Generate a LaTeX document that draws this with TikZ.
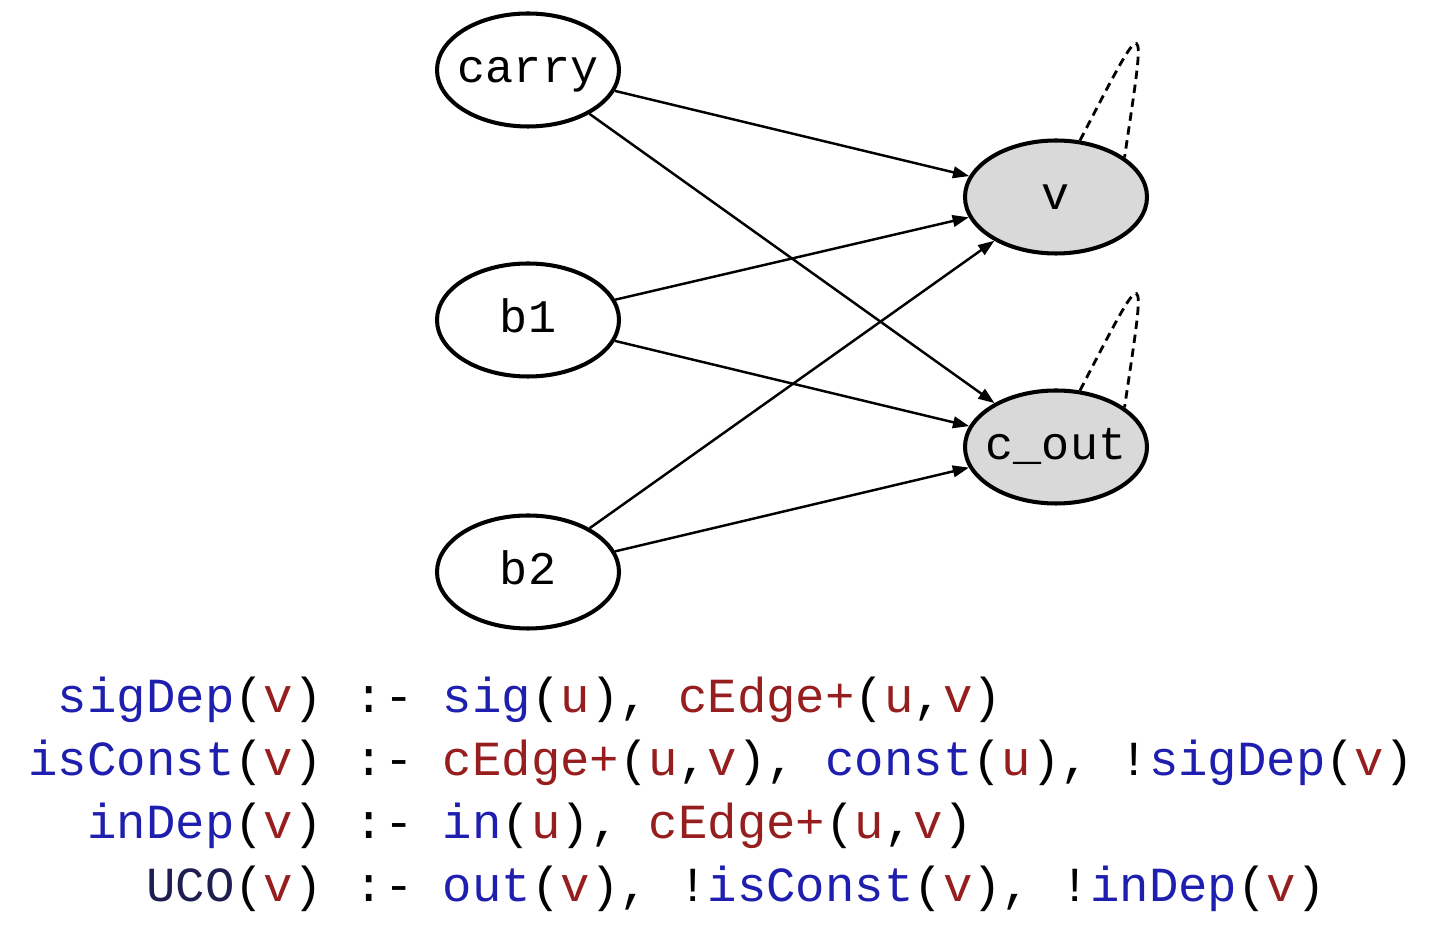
\documentclass[tikz,border=0pt]{standalone}
\usepackage{fontspec}
\setmonofont{Liberation Mono}
\usepackage{xcolor}
\usetikzlibrary{arrows.meta,shapes.geometric}

\definecolor{predblue}{RGB}{30,30,175}
\definecolor{varred}{RGB}{150,30,30}
\definecolor{headnavy}{RGB}{30,30,80}
\newcommand{\predname}[1]{\textcolor{predblue}{#1}}
\newcommand{\varname}[1]{\textcolor{varred}{#1}}

\begin{document}
\begin{tikzpicture}[
  signal/.style={ellipse, draw, line width=1.15pt, minimum width=1.82cm,
    minimum height=1.13cm, inner xsep=-4mm, inner ysep=0pt,
    text height=0.36cm, text depth=0.10cm,
    font=\fontsize{13.3}{16}\selectfont\ttfamily},
  output/.style={signal, fill=gray!30},
  selfloop/.style={-, dashed, dash pattern=on 2.4pt off 1.6pt, line width=0.8pt},
  rule/.style={inner sep=0pt, font=\fontsize{13.95}{17}\selectfont\ttfamily},
  ->,>={Triangle[length=4.6pt,width=3.3pt]},line width=0.7pt
]
\useasboundingbox (0,0) rectangle (14.4,9.38);

\node[signal] (carry) at (5.28,8.68) {carry};
\node[signal] (b1) at (5.28,6.18) {b1};
\node[signal] (b2) at (5.28,3.66) {b2};
\node[output] (v) at (10.56,7.41) {v};
\node[output] (cout) at (10.56,4.91) {c\_out};

\draw (carry) -- (v);
\draw (carry) -- (cout);
\draw (b1) -- (v);
\draw (b1) -- (cout);
\draw (b2) -- (v);
\draw (b2) -- (cout);

% self loops
\draw[selfloop] (v.67) .. controls +(0.69,1.33) and +(0.22,1.48) .. (v.30);
\draw[selfloop] (cout.67) .. controls +(0.69,1.33) and +(0.22,1.48) .. (cout.30);

% rules
\node[rule, anchor=base east] (head1) at (3.24,2.25)
  {\predname{sigDep}(\varname{v})};
\node[rule, anchor=base west] (body1) at (3.534,2.25)
  {:- \predname{sig}(\varname{u}), \varname{cEdge+}(\varname{u},\varname{v})};
\node[rule, anchor=base east] (head2) at (3.24,1.62)
  {\predname{isConst}(\varname{v})};
\node[rule, anchor=base west] (body2) at (3.534,1.62)
  {:- \varname{cEdge+}(\varname{u},\varname{v}), \predname{const}(\varname{u}), !\predname{sigDep}(\varname{v})};
\node[rule, anchor=base east] (head3) at (3.24,0.99)
  {\predname{inDep}(\varname{v})};
\node[rule, anchor=base west] (body3) at (3.534,0.99)
  {:- \predname{in}(\varname{u}), \varname{cEdge+}(\varname{u},\varname{v})};
\node[rule, anchor=base east] (head4) at (3.24,0.36)
  {\textcolor{headnavy}{UCO}(\varname{v})};
\node[rule, anchor=base west] (body4) at (3.534,0.36)
  {:- \predname{out}(\varname{v}), !\predname{isConst}(\varname{v}), !\predname{inDep}(\varname{v})};
\end{tikzpicture}
\end{document}
